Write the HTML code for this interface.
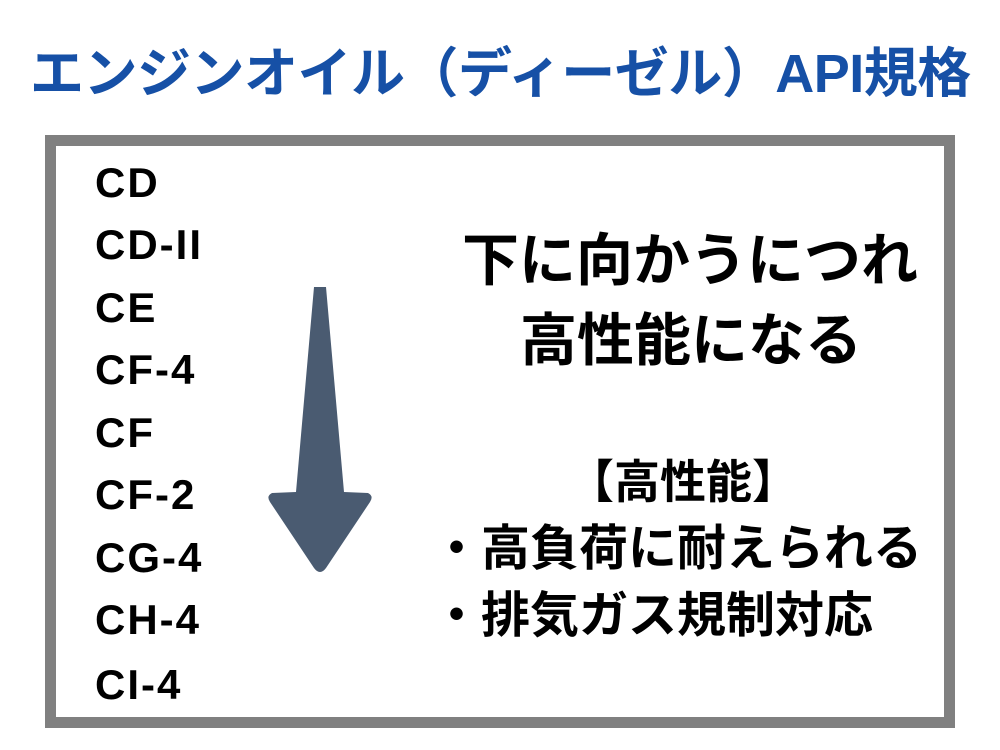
<!DOCTYPE html>
<html><head><meta charset="utf-8"><style>
body{margin:0;width:1000px;height:750px;background:#fff;position:relative;overflow:hidden;font-family:"Liberation Sans","Noto Sans CJK JP",sans-serif;font-weight:bold}
.t{position:absolute;white-space:nowrap;line-height:1}
#title{left:30px;top:47px;font-size:54px;color:#1650a6;letter-spacing:-0.5px}
#box{position:absolute;left:45px;top:135px;width:888px;height:571px;border:11px solid #808080;background:#fff}
.l{position:absolute;left:95px;font-size:42px;color:#000;line-height:1;letter-spacing:2px}
</style></head><body>
<div class="t" id="title">エンジンオイル（ディーゼル）API規格</div>
<div id="box"></div>
<div class="l" style="top:162px">CD</div>
<div class="l" style="top:224px">CD-II</div>
<div class="l" style="top:287px">CE</div>
<div class="l" style="top:349px">CF-4</div>
<div class="l" style="top:412px">CF</div>
<div class="l" style="top:474px">CF-2</div>
<div class="l" style="top:537px">CG-4</div>
<div class="l" style="top:599px">CH-4</div>
<div class="l" style="top:664px">CI-4</div>
<svg style="position:absolute;left:0;top:0" width="1000" height="750">
<path d="M314 287 L326 287 L344 492 L368 493 Q374 496 370 502 L326 568 Q320 576 314 568 L270 502 Q266 496 272 493 L296 492 Z" fill="#4a5b71"/>
</svg>
<div class="t" style="left:462px;top:233px;font-size:57px">下に向かうにつれ</div>
<div class="t" style="left:520px;top:313px;font-size:57px">高性能になる</div>
<div class="t" style="left:568px;top:459px;font-size:46px">【高性能】</div>
<div class="t" style="left:432px;top:525px;font-size:49px">・高負荷に耐えられる</div>
<div class="t" style="left:432px;top:592px;font-size:49px">・排気ガス規制対応</div>
</body></html>
